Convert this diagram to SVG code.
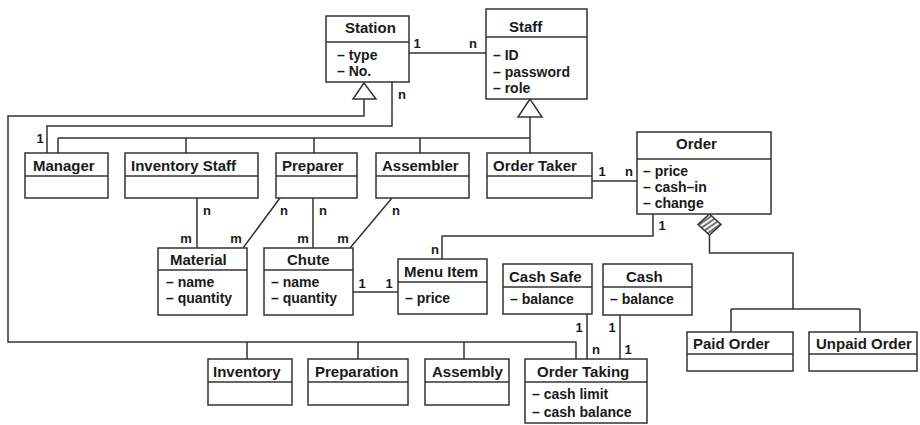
<svg xmlns="http://www.w3.org/2000/svg" width="920" height="425" viewBox="0 0 920 425">
<style>
.bx{fill:#fff;stroke:#333;stroke-width:1.5}
.dv{stroke:#333;stroke-width:1.5}
.c{fill:none;stroke:#333;stroke-width:1.5}
text{font-family:"Liberation Sans",Arial,Helvetica,sans-serif;font-weight:bold;fill:#1a1a1a}
.t{font-size:15px}
.a{font-size:14px}
.l{font-size:13px;text-anchor:middle}
</style>
<defs>
<pattern id="hatch" patternUnits="userSpaceOnUse" width="4" height="4" patternTransform="rotate(-35)">
<rect width="4" height="4" fill="#fff"/>
<line x1="0" y1="1" x2="4" y2="1" stroke="#333" stroke-width="1.4"/>
</pattern>
</defs>
<rect width="920" height="425" fill="#fff"/>

<g id="connectors">
<path class="c" d="M409,53 H486"/>
<path class="c" d="M364,99 V116 H8 V342 H576 V359"/>
<path class="c" d="M247,342 V359 M358,342 V359 M464,342 V359"/>
<path class="c" d="M392,82 V126 H47 V153"/>
<path class="c" d="M530,117 V153 M58,138 H530 M58,138 V153 M186,138 V153 M314,138 V153 M420,138 V153"/>
<polygon class="bx" points="364,83 353,99 376,99"/>
<polygon class="bx" points="530,99 518,117 542,117"/>
<path class="c" d="M592,181 H637"/>
<path class="c" d="M653,214 V236 H442 V259"/>
<path class="c" d="M709.5,235 V253 H793 V309 M731,309 H860 M731,309 V332 M860,309 V332"/>
<polygon points="709.5,214 721,224.5 709.5,235 698,224.5" fill="url(#hatch)" stroke="#333" stroke-width="1.5"/>
<path class="c" d="M197,198 V248 M280,198 L243,248 M313,198 V248 M392,198 L350,248"/>
<path class="c" d="M353,292 H398"/>
<path class="c" d="M587,314 V359 M620,315 V359"/>
<text class="l" x="417" y="48">1</text>
<text class="l" x="473" y="48">n</text>
<text class="l" x="402" y="99">n</text>
<text class="l" x="40" y="143">1</text>
<text class="l" x="602" y="176">1</text>
<text class="l" x="629" y="176">n</text>
<text class="l" x="662" y="230">1</text>
<text class="l" x="435" y="254">n</text>
<text class="l" x="207" y="215">n</text>
<text class="l" x="186" y="243">m</text>
<text class="l" x="284" y="215">n</text>
<text class="l" x="236" y="243">m</text>
<text class="l" x="323" y="215">n</text>
<text class="l" x="303" y="243">m</text>
<text class="l" x="396" y="215">n</text>
<text class="l" x="343" y="243">m</text>
<text class="l" x="362" y="288">1</text>
<text class="l" x="389" y="288">1</text>
<text class="l" x="579" y="332">1</text>
<text class="l" x="596" y="354">n</text>
<text class="l" x="612" y="332">1</text>
<text class="l" x="628" y="354">1</text>
</g>

<g id="station">
<rect class="bx" x="326" y="16" width="83" height="66"/>
<line class="dv" x1="326" y1="42" x2="409" y2="42"/>
<text class="t" x="345" y="33">Station</text>
<text class="a" x="337" y="60">– type</text>
<text class="a" x="337" y="76">– No.</text>
</g>

<g id="staff">
<rect class="bx" x="486" y="9" width="101" height="90"/>
<line class="dv" x1="486" y1="37" x2="587" y2="37"/>
<text class="t" x="509" y="32">Staff</text>
<text class="a" x="493" y="60">– ID</text>
<text class="a" x="493" y="77">– password</text>
<text class="a" x="493" y="93">– role</text>
</g>

<g id="order">
<rect class="bx" x="637" y="132" width="134" height="82"/>
<line class="dv" x1="637" y1="159" x2="771" y2="159"/>
<text class="t" x="676" y="149">Order</text>
<text class="a" x="643" y="176">– price</text>
<text class="a" x="643" y="192">– cash–in</text>
<text class="a" x="643" y="208">– change</text>
</g>

<g id="manager">
<rect class="bx" x="25" y="153" width="83" height="45"/>
<line class="dv" x1="25" y1="176" x2="108" y2="176"/>
<text class="t" x="33" y="171">Manager</text>
</g>

<g id="inventory-staff">
<rect class="bx" x="125" y="153" width="133" height="45"/>
<line class="dv" x1="125" y1="176" x2="258" y2="176"/>
<text class="t" x="131" y="171">Inventory Staff</text>
</g>

<g id="preparer">
<rect class="bx" x="276" y="153" width="81" height="45"/>
<line class="dv" x1="276" y1="176" x2="357" y2="176"/>
<text class="t" x="282" y="171">Preparer</text>
</g>

<g id="assembler">
<rect class="bx" x="376" y="153" width="93" height="45"/>
<line class="dv" x1="376" y1="176" x2="469" y2="176"/>
<text class="t" x="382" y="171">Assembler</text>
</g>

<g id="order-taker">
<rect class="bx" x="487" y="153" width="105" height="45"/>
<line class="dv" x1="487" y1="176" x2="592" y2="176"/>
<text class="t" x="493" y="171">Order Taker</text>
</g>

<g id="material">
<rect class="bx" x="158" y="248" width="89" height="67"/>
<line class="dv" x1="158" y1="270" x2="247" y2="270"/>
<text class="t" x="170" y="265">Material</text>
<text class="a" x="166" y="287">– name</text>
<text class="a" x="166" y="303">– quantity</text>
</g>

<g id="chute">
<rect class="bx" x="264" y="248" width="89" height="67"/>
<line class="dv" x1="264" y1="270" x2="353" y2="270"/>
<text class="t" x="287" y="265">Chute</text>
<text class="a" x="271" y="287">– name</text>
<text class="a" x="271" y="303">– quantity</text>
</g>

<g id="menu-item">
<rect class="bx" x="398" y="259" width="89" height="55"/>
<line class="dv" x1="398" y1="282" x2="487" y2="282"/>
<text class="t" x="404" y="277">Menu Item</text>
<text class="a" x="405" y="303">– price</text>
</g>

<g id="cash-safe">
<rect class="bx" x="503" y="264" width="89" height="50"/>
<line class="dv" x1="503" y1="287" x2="592" y2="287"/>
<text class="t" x="509" y="282">Cash Safe</text>
<text class="a" x="510" y="304">– balance</text>
</g>

<g id="cash">
<rect class="bx" x="603" y="264" width="89" height="51"/>
<line class="dv" x1="603" y1="287" x2="692" y2="287"/>
<text class="t" x="626" y="282">Cash</text>
<text class="a" x="610" y="304">– balance</text>
</g>

<g id="paid-order">
<rect class="bx" x="687" y="332" width="106" height="39"/>
<line class="dv" x1="687" y1="354" x2="793" y2="354"/>
<text class="t" x="693" y="349">Paid Order</text>
</g>

<g id="unpaid-order">
<rect class="bx" x="809" y="332" width="108" height="39"/>
<line class="dv" x1="809" y1="354" x2="917" y2="354"/>
<text class="t" x="816" y="349">Unpaid Order</text>
</g>

<g id="inventory">
<rect class="bx" x="208" y="359" width="84" height="46"/>
<line class="dv" x1="208" y1="382" x2="292" y2="382"/>
<text class="t" x="213" y="377">Inventory</text>
</g>

<g id="preparation">
<rect class="bx" x="308" y="359" width="100" height="46"/>
<line class="dv" x1="308" y1="382" x2="408" y2="382"/>
<text class="t" x="315" y="377">Preparation</text>
</g>

<g id="assembly">
<rect class="bx" x="425" y="359" width="84" height="46"/>
<line class="dv" x1="425" y1="382" x2="509" y2="382"/>
<text class="t" x="432" y="377">Assembly</text>
</g>

<g id="order-taking">
<rect class="bx" x="525" y="359" width="122" height="64"/>
<line class="dv" x1="525" y1="382" x2="647" y2="382"/>
<text class="t" x="537" y="377">Order Taking</text>
<text class="a" x="532" y="399">– cash limit</text>
<text class="a" x="532" y="417">– cash balance</text>
</g>
</svg>
